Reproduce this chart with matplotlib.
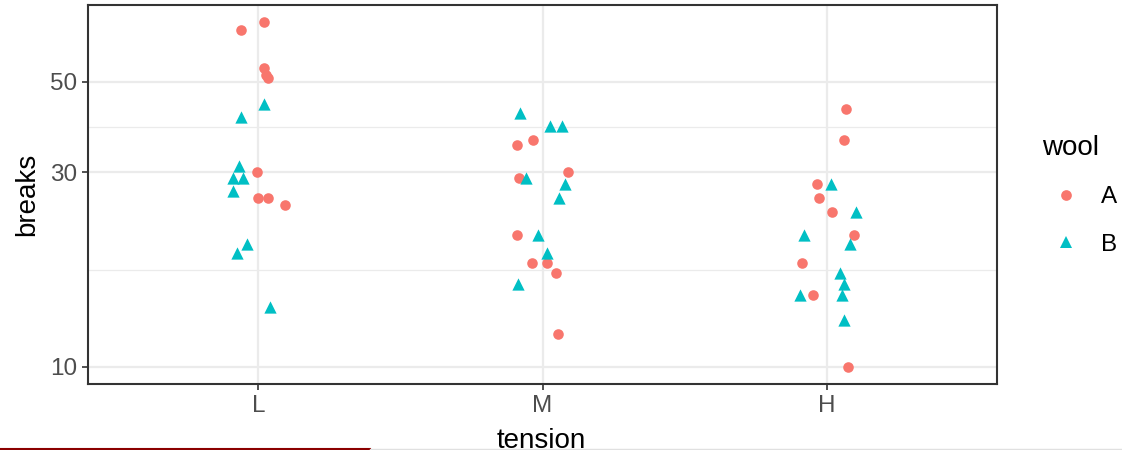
import matplotlib
matplotlib.use("Agg")
import matplotlib.pyplot as plt
import numpy as np
from matplotlib.lines import Line2D

plt.rcParams['font.family'] = ['Liberation Sans', 'DejaVu Sans']

# ---------------------------------------------------------------------------
# Data (warpbreaks), jitter offsets
# ---------------------------------------------------------------------------

tension_levels = ['L', 'M', 'H']

breaks_A = {
    'L': [26, 30, 54, 25, 70, 52, 51, 26, 67],
    'M': [18, 21, 29, 17, 12, 18, 35, 30, 36],
    'H': [36, 21, 24, 18, 10, 43, 28, 15, 26],
}
breaks_B = {
    'L': [27, 14, 29, 19, 29, 31, 41, 20, 44],
    'M': [42, 26, 19, 16, 39, 28, 21, 39, 29],
    'H': [20, 21, 24, 17, 13, 15, 15, 16, 28],
}
jitter_A = {
    'L': [0.000, -0.004, 0.018, 0.095, 0.018, 0.025, 0.035, 0.035, -0.063],
    'M': [-0.037, -0.090, -0.083, 0.047, 0.054, 0.016, -0.090, 0.090, -0.033],
    'H': [0.060, 0.095, 0.018, -0.088, 0.074, 0.067, -0.035, -0.049, -0.025],
}
jitter_B = {
    'L': [-0.091, 0.042, -0.088, -0.077, -0.056, -0.070, -0.060, -0.042, 0.021],
    'M': [-0.079, 0.058, 0.016, -0.086, 0.026, 0.079, -0.016, 0.069, -0.058],
    'H': [0.081, -0.081, 0.102, 0.046, 0.063, -0.095, 0.056, 0.060, 0.014],
}

y_major = [10, 30, 50]
y_minor = [np.sqrt(10 * 30), np.sqrt(30 * 50)]

col_A = '#F8766D'
col_B = '#00BFC4'

# ---------------------------------------------------------------------------
# Plot
# ---------------------------------------------------------------------------

W, H = 1122, 450
fig = plt.figure(figsize=(W / 100, H / 100), dpi=100)
ax = fig.add_axes([88 / W, (H - 384) / H, (997 - 88) / W, (384 - 5) / H])

for i, t in enumerate(tension_levels):
    xa = (i + 1) + np.array(jitter_A[t])
    xb = (i + 1) + np.array(jitter_B[t])
    ax.scatter(xa, breaks_A[t], s=58, marker='o', color=col_A, linewidths=0, zorder=3)
    ax.scatter(xb, breaks_B[t], s=78, marker='^', color=col_B, linewidths=0, zorder=3)

ax.set_yscale('log')
lo, hi = np.log10(10), np.log10(70)
pad = 0.05 * (hi - lo)
ax.set_ylim(10 ** (lo - pad), 10 ** (hi + pad))
ax.set_xlim(0.4, 3.6)

ax.set_yticks(y_major)
ax.set_yticklabels([str(v) for v in y_major])
ax.set_yticks(y_minor, minor=True)
ax.yaxis.set_minor_formatter(matplotlib.ticker.NullFormatter())
ax.set_xticks([1, 2, 3])
ax.set_xticklabels(tension_levels)

ax.set_axisbelow(True)
ax.grid(True, which='major', color='#EBEBEB', linewidth=1.6)
ax.grid(True, which='minor', axis='y', color='#EBEBEB', linewidth=0.9)

ax.tick_params(which='major', length=4, width=1.2, color='#333333',
               labelcolor='#4D4D4D', labelsize=17.5, pad=4)
ax.tick_params(which='minor', length=0)
for sp in ax.spines.values():
    sp.set_color('#333333')
    sp.set_linewidth(1.5)

ax.set_ylabel('breaks', fontsize=20, labelpad=7)
fig.text(541 / W, (H - 428) / H, 'tension', fontsize=20, ha='center', va='top')

handles = [
    Line2D([], [], marker='o', linestyle='', color=col_A, markersize=7.7, markeredgewidth=0),
    Line2D([], [], marker='^', linestyle='', color=col_B, markersize=9.2, markeredgewidth=0),
]
fig.legend(handles, ['A', 'B'], title='wool', loc='upper left',
           bbox_to_anchor=(1032 / W, 1 - 125 / H), frameon=False,
           fontsize=17.5, title_fontsize=20, handletextpad=0.45,
           labelspacing=1.05, borderaxespad=0, alignment='left')

# bottom-edge artefacts of the reference screenshot
fig.add_artist(Line2D([0, 370 / W], [1 / H, 1 / H], color='#8B0000', linewidth=1.5))
fig.add_artist(Line2D([370 / W, 1], [1 / H, 1 / H], color='#E0E0E0', linewidth=1.0))

fig.savefig('out.png', dpi=100)
